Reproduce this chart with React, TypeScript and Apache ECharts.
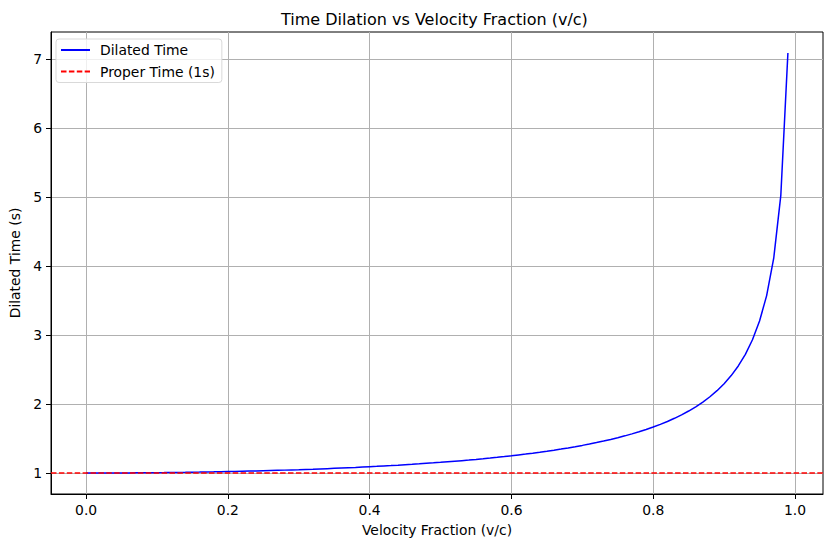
import React, { useEffect, useRef } from "react";
import * as echarts from "echarts";

const velocities: number[] = [
  0.0, 0.01, 0.02, 0.03, 0.04, 0.05, 0.06, 0.07, 0.08, 0.09,
  0.1, 0.11, 0.12, 0.13, 0.14, 0.15, 0.16, 0.17, 0.18, 0.19,
  0.2, 0.21, 0.22, 0.23, 0.24, 0.25, 0.26, 0.27, 0.28, 0.29,
  0.3, 0.31, 0.32, 0.33, 0.34, 0.35, 0.36, 0.37, 0.38, 0.39,
  0.4, 0.41, 0.42, 0.43, 0.44, 0.45, 0.46, 0.47, 0.48, 0.49,
  0.5, 0.51, 0.52, 0.53, 0.54, 0.55, 0.56, 0.57, 0.58, 0.59,
  0.6, 0.61, 0.62, 0.63, 0.64, 0.65, 0.66, 0.67, 0.68, 0.69,
  0.7, 0.71, 0.72, 0.73, 0.74, 0.75, 0.76, 0.77, 0.78, 0.79,
  0.8, 0.81, 0.82, 0.83, 0.84, 0.85, 0.86, 0.87, 0.88, 0.89,
  0.9, 0.91, 0.92, 0.93, 0.94, 0.95, 0.96, 0.97, 0.98, 0.99,
];

const dilatedTime: number[] = [
  1.0, 1.0001, 1.0002, 1.0005, 1.0008, 1.0013, 1.0018, 1.0025, 1.0032, 1.0041,
  1.005, 1.0061, 1.0073, 1.0086, 1.0099, 1.0114, 1.013, 1.0148, 1.0166, 1.0186,
  1.0206, 1.0228, 1.0251, 1.0276, 1.0301, 1.0328, 1.0356, 1.0386, 1.0417, 1.0449,
  1.0483, 1.0518, 1.0555, 1.0593, 1.0634, 1.0675, 1.0719, 1.0764, 1.0811, 1.086,
  1.0911, 1.0964, 1.1019, 1.1076, 1.1135, 1.1198, 1.1262, 1.1329, 1.1399, 1.1472,
  1.1547, 1.1626, 1.1707, 1.1792, 1.1881, 1.1974, 1.207, 1.2171, 1.2276, 1.2385,
  1.25, 1.262, 1.2745, 1.2877, 1.3014, 1.3159, 1.3311, 1.3471, 1.3639, 1.3816,
  1.4003, 1.42, 1.441, 1.4632, 1.4868, 1.5119, 1.5386, 1.5673, 1.598, 1.631,
  1.6667, 1.7052, 1.7471, 1.7929, 1.843, 1.8983, 1.9596, 2.0282, 2.1054, 2.1932,
  2.2942, 2.4119, 2.5516, 2.7206, 2.9311, 3.2026, 3.5714, 4.1135, 5.0252, 7.0888,
];

const properTime = 1;

const xTicks: number[] = [0.0, 0.2, 0.4, 0.6, 0.8, 1.0];
const yTicks: number[] = [1, 2, 3, 4, 5, 6, 7];

const FONT = "DejaVu Sans";

export default function App() {
  const ref = useRef<HTMLDivElement>(null);

  useEffect(() => {
    if (!ref.current) return;
    const chart = echarts.init(ref.current, undefined, { renderer: "svg" });
    const xMin = -0.0495;
    const xMax = 1.0395;
    const yMin = 0.6956;
    const yMax = 7.393;
    chart.setOption({
      animation: false,
      backgroundColor: "#ffffff",
      textStyle: { fontFamily: FONT },
      title: {
        text: "Time Dilation vs Velocity Fraction (v/c)",
        left: 276,
        top: 6,
        textStyle: { fontFamily: FONT, fontSize: 16, fontWeight: "normal", color: "#000" },
      },
      legend: {
        orient: "vertical",
        left: 56,
        top: 39,
        padding: [4, 7, 4, 4],
        itemWidth: 29,
        itemHeight: 14,
        itemGap: 7.5,
        borderColor: "#d9d9d9",
        borderWidth: 1,
        borderRadius: 3,
        backgroundColor: "rgba(255,255,255,0.8)",
        itemStyle: { opacity: 0 },
        textStyle: { fontFamily: FONT, fontSize: 13.9, color: "#000", padding: [0, 0, 0, 5] },
        data: ["Dilated Time", "Proper Time (1s)"],
      },
      grid: {
        left: 48,
        right: 10,
        top: 32,
        bottom: 53,
        show: true,
        borderColor: "#000",
        borderWidth: 1,
        containLabel: false,
      },
      xAxis: {
        type: "value",
        min: xMin,
        max: xMax,
        name: "Velocity Fraction (v/c)",
        nameLocation: "middle",
        nameGap: 29,
        nameTextStyle: { fontFamily: FONT, fontSize: 13.9, color: "#000" },
        axisLine: { show: true, onZero: false, lineStyle: { color: "#000", width: 1 } },
        axisTick: { show: true, length: 5, customValues: xTicks, lineStyle: { color: "#000" } },
        axisLabel: {
          customValues: xTicks,
          margin: 9,
          fontFamily: FONT,
          fontSize: 13.9,
          color: "#000",
          formatter: (v: number) => v.toFixed(1),
        },
        splitLine: { show: true, lineStyle: { color: "#b0b0b0", width: 1 } },
      },
      yAxis: {
        type: "value",
        min: yMin,
        max: yMax,
        name: "Dilated Time (s)",
        nameLocation: "middle",
        nameGap: 29,
        nameRotate: 90,
        nameTextStyle: { fontFamily: FONT, fontSize: 13.9, color: "#000" },
        axisLine: { show: true, onZero: false, lineStyle: { color: "#000", width: 1 } },
        axisTick: { show: true, length: 5, customValues: yTicks, lineStyle: { color: "#000" } },
        axisLabel: {
          customValues: yTicks,
          margin: 9,
          fontFamily: FONT,
          fontSize: 13.9,
          color: "#000",
          formatter: (v: number) => String(Math.round(v)),
        },
        splitLine: { show: true, lineStyle: { color: "#b0b0b0", width: 1 } },
      },
      series: [
        {
          name: "Dilated Time",
          type: "line",
          data: velocities.map((v, i) => [v, dilatedTime[i]]),
          showSymbol: false,
          symbol: "none",
          lineStyle: { color: "#0000ff", width: 1.5 },
          itemStyle: { color: "#0000ff" },
        },
        {
          name: "Proper Time (1s)",
          type: "line",
          data: [],
          symbol: "none",
          lineStyle: { color: "#ff0000", width: 1.5, type: [5.5, 2.4] },
          itemStyle: { color: "#ff0000" },
          markLine: {
            silent: true,
            symbol: ["none", "none"],
            label: { show: false },
            lineStyle: { color: "#ff0000", width: 1.5, type: [5.5, 2.4] },
            data: [{ yAxis: properTime }],
          },
        },
      ],
    });
    return () => chart.dispose();
  }, []);

  return (
    <div
      ref={ref}
      style={{ position: "fixed", left: 0, top: 0, width: 833, height: 547 }}
    />
  );
}
